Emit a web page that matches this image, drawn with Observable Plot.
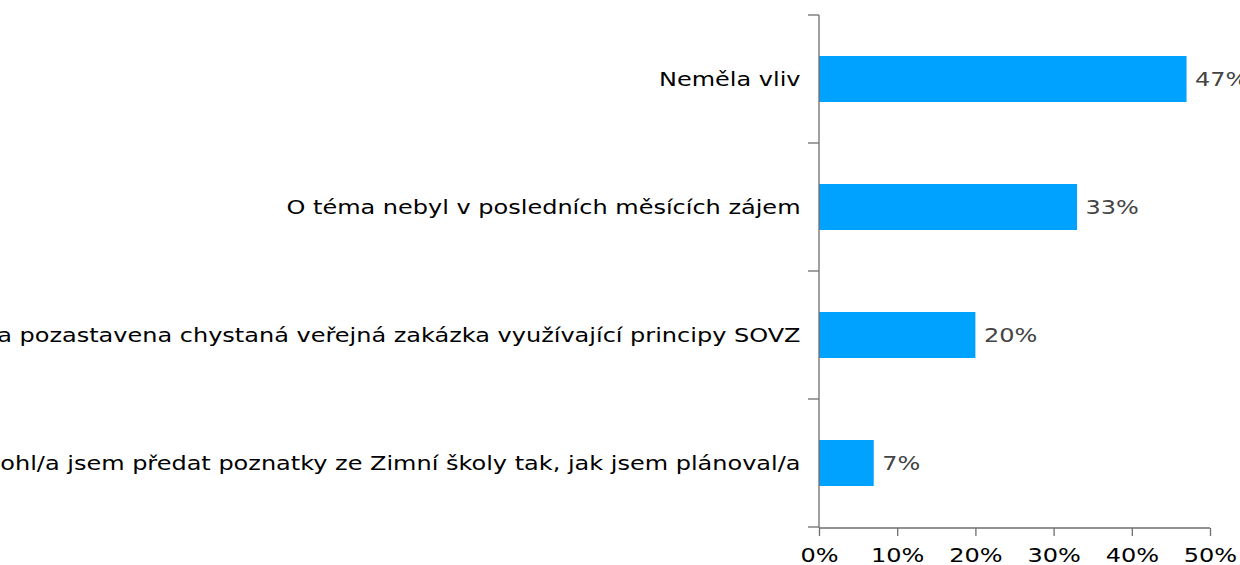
<!DOCTYPE html>
<html><head><meta charset="utf-8">
<script src="https://cdn.jsdelivr.net/npm/d3@7"></script>
<script src="https://cdn.jsdelivr.net/npm/@observablehq/plot@0.6"></script>
<style>body{margin:0;background:#fff;} svg{font-family:"DejaVu Sans";}</style>
</head><body><div id="chart"></div>
<script>
const categories = [
  "Neměla vliv",
  "O téma nebyl v posledních měsících zájem",
  "Byla pozastavena chystaná veřejná zakázka využívající principy SOVZ",
  "Nemohl/a jsem předat poznatky ze Zimní školy tak, jak jsem plánoval/a"
];
const values = [0.47, 0.33, 0.20, 0.07];
const xTicks = [0, 0.1, 0.2, 0.3, 0.4, 0.5];
const data = categories.map((c, i) => ({category: c, value: values[i]}));

const axisColor = "#6e6e6e";
const pct = d => Math.round(d * 100) + "%";

function axesLines(index, scales, values, dimensions) {
  const y = scales.y, x = scales.x;
  const step = y.step();
  const bw = y.bandwidth();
  const g = d3.create("svg:g").attr("stroke", axisColor).attr("stroke-width", 1.3);
  const ml = dimensions.marginLeft;
  const top = dimensions.marginTop, bottom = dimensions.height - dimensions.marginBottom;
  // y axis line
  g.append("line").attr("x1", ml).attr("x2", ml).attr("y1", top).attr("y2", bottom);
  // x axis line
  g.append("line").attr("x1", x(xTicks[0])).attr("x2", x(xTicks[xTicks.length - 1]))
    .attr("y1", bottom).attr("y2", bottom);
  // category boundary ticks
  const bounds = categories.map(c => y(c) + bw / 2 - step / 2);
  bounds.push(y(categories[categories.length - 1]) + bw / 2 + step / 2);
  for (const b of bounds) {
    g.append("line").attr("x1", ml - 11).attr("x2", ml).attr("y1", b).attr("y2", b);
  }
  return g.node();
}

const chart = Plot.plot({
  width: 1240,
  height: 565,
  marginLeft: 819,
  marginRight: 30,
  marginTop: 15,
  marginBottom: 37,
  style: {fontFamily: "DejaVu Sans", background: "#fff", overflow: "visible"},
  x: {domain: [0, 0.5], ticks: xTicks, tickFormat: pct},
  y: {domain: categories, paddingInner: 0.64, paddingOuter: 0.32},
  marks: [
    Plot.barX(data, {x: "value", y: "category", fill: "#00a2ff"}),
    Plot.text(data, {x: "value", y: "category", text: d => pct(d.value),
      textAnchor: "start", dx: 8, fill: "#444", fontSize: 20}),
    Plot.axisY({tickSize: 0, tickPadding: 19, fontSize: 20, fill: "#000", label: null}),
    axesLines,
    Plot.axisX({ticks: xTicks, tickFormat: pct, tickSize: 8, strokeWidth: 1.3,
      stroke: axisColor, fontSize: 20, fill: "#000", tickPadding: 11, label: null})
  ]
});

// the reference's text is horizontally widened; scale each label around its own anchor
chart.querySelectorAll("text").forEach(t => {
  const tr = t.getAttribute("transform");
  if (tr) {
    t.setAttribute("transform", tr + " scale(1.2,1)");
  } else {
    const x = +(t.getAttribute("x") || 0);
    t.setAttribute("transform", `translate(${x},0) scale(1.2,1) translate(${-x},0)`);
  }
});
document.getElementById("chart").appendChild(chart);
</script>
</body></html>
